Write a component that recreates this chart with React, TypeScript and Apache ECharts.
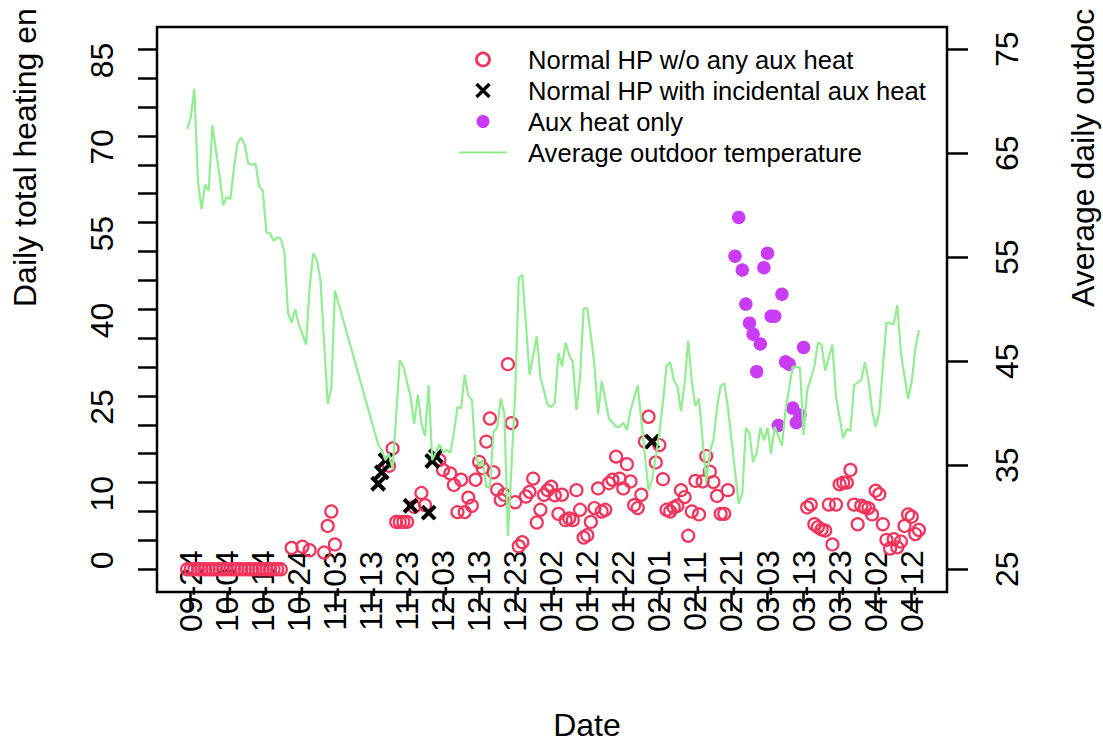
import { useEffect, useRef } from 'react';
import * as echarts from 'echarts';

// x values are days counted from 09-24
const dateTickDays = [0, 10, 20, 30, 40, 50, 60, 70, 80, 90, 100, 110, 120, 130, 140, 150, 160, 170, 180, 190, 200];
const dateTickLabels = [
  '09-24', '10-04', '10-14', '10-24', '11-03', '11-13', '11-23', '12-03', '12-13', '12-23', '01-02',
  '01-12', '01-22', '02-01', '02-11', '02-21', '03-03', '03-13', '03-23', '04-02', '04-12'
];

const energyTicks = [0, 5, 10, 15, 20, 25, 30, 35, 40, 45, 50, 55, 60, 65, 70, 75, 80, 85, 90];
const energyLabels = [0, 10, 25, 40, 55, 70, 85];
const tempTicks = [25, 35, 45, 55, 65, 75];

// Normal HP w/o any aux heat
const normalDays = [
  -1, 0, 1, 2, 3, 4, 5, 6, 7, 8, 9, 10, 11, 12, 13, 14, 15, 16, 17, 18, 19, 20, 21, 22, 23, 24, 25,
  28, 31, 33, 37, 38, 39, 40,
  55, 56, 57, 58, 59, 60, 62, 64, 65,
  69, 70, 72, 73, 74, 75, 76, 77, 78, 79, 80, 81, 82, 83, 84, 85, 86, 87, 88, 89, 90, 91, 92, 93, 94,
  95, 96, 97, 98, 99, 100, 101, 102, 103, 104, 105, 106, 107, 108, 109, 110, 111, 112, 113, 114, 115,
  116, 117, 118, 119, 120, 121, 122, 123, 124, 125, 126, 127, 129, 130, 131, 132, 133, 134, 135, 136,
  137, 138, 139, 140, 141, 142, 143, 144, 145, 146, 147, 148, 149,
  171, 172, 173, 174, 175, 176, 177, 178, 179, 180, 181, 182, 183, 184, 185, 186, 187, 188, 189, 190,
  191, 192, 193, 194, 195, 196, 197, 198, 199, 200, 201, 202
];
const normalKwh = [
  0, 0, 0, 0, 0, 0, 0, 0, 0, 0, 0, 0, 0, 0, 0, 0, 0, 0, 0, 0, 0, 0, 0, 0, 0, 0, 0,
  3.7, 3.9, 3.3, 2.9, 7.5, 10.0, 4.3,
  17.9, 20.9, 8.2, 8.2, 8.2, 8.2, 10.8, 13.2, 11.1,
  18.9, 17.2, 16.6, 14.6, 9.9, 15.5, 9.9, 12.4, 11.0, 15.5, 18.6, 17.5, 22.1, 26.1, 16.8, 13.8, 12.0,
  12.9, 35.5, 25.3, 11.6, 4.0, 4.7, 12.6, 13.4,
  15.7, 8.1, 10.3, 12.9, 13.7, 14.3, 12.8, 9.6, 12.9, 8.5, 8.8, 8.5, 13.7, 10.3, 5.5, 5.9, 8.2, 10.6,
  14.0, 10.0, 10.3,
  14.9, 15.5, 19.5, 15.7, 14.0, 18.2, 15.2, 11.1, 10.6, 12.9, 22.1, 26.4, 18.5, 21.5, 15.6, 10.3, 10.0,
  10.7, 11.0, 13.7,
  12.5, 5.8, 10.0, 15.3, 9.5, 15.2, 19.6, 16.9, 15.1, 12.7, 9.6, 9.6, 13.7,
  10.7, 11.2, 7.8, 7.3, 6.9, 6.7, 11.2, 4.3, 11.2, 14.7, 15.0, 15.0, 17.2, 11.2, 7.8, 11.0, 10.7, 10.6,
  9.5, 13.6,
  13.0, 7.8, 5.1, 3.6, 5.2, 3.8, 4.8, 7.5, 9.5, 9.1, 6.1, 6.8
];

// Normal HP with incidental aux heat
const incidentalDays = [52, 53, 54, 61, 66, 67, 68, 128];
const incidentalKwh = [14.8, 16.8, 18.9, 11.0, 9.8, 18.75, 19.6, 22.1];

// Aux heat only
const auxDays = [151, 152, 153, 154, 155, 156, 157, 158, 159, 160, 161, 162, 163, 164, 165, 166, 167, 168, 169, 170];
const auxKwh = [54.2, 60.9, 51.8, 45.9, 42.6, 40.7, 34.2, 39.0, 52.2, 54.7, 43.8, 43.8, 24.9, 47.6, 35.9, 35.5, 27.9, 25.4, 26.7, 38.4];

// Average outdoor temperature
const tempDays = [
  -1, 0, 1, 2, 3, 4, 5, 6, 8, 9, 10, 11, 12, 13, 14, 15, 16, 17, 18, 19, 20, 21, 22, 23, 24, 25, 26, 27,
  28, 29, 30, 31, 32, 33, 34, 35, 36, 38, 39, 40,
  52, 53, 54, 55, 56, 58, 59, 61, 62, 63, 64, 65, 66, 67, 69, 70, 71, 72, 73, 74, 75, 76, 77, 78, 79,
  80, 81, 82, 83, 84, 85, 86, 87, 88, 90, 91, 92, 94, 96, 97, 99, 100, 101, 102, 103, 104, 105, 106,
  107, 108, 109, 110, 111, 112, 113, 114, 116, 118, 119, 120, 121, 122, 124, 127, 128, 130, 131, 132,
  133, 134, 135, 136, 137, 138, 139, 140, 141, 143, 144, 145, 146, 147, 148, 149, 152, 153, 154, 155,
  156, 157, 158, 159, 160, 161, 162, 164, 165, 167, 169, 170, 171, 173, 174, 175, 176, 178, 179, 181,
  182, 183, 184, 186, 187, 188, 189, 190, 191, 193, 194, 195, 196, 197, 199, 200, 201, 202
];
const tempValues = [
  67.3, 68.4, 71.2, 62.4, 59.6, 62.0, 61.4, 67.7, 62.9, 60.0, 60.8, 60.6, 63.6, 66.0, 66.5, 65.8, 64.0,
  63.9, 64.0, 61.8, 61.4, 57.4, 57.3, 56.6, 56.9, 56.8, 55.5, 49.6,
  48.7, 50.0, 48.5, 47.6, 46.6, 52.2, 55.4, 54.7, 52.8, 40.9, 42.4, 51.8,
  37.0, 36.5, 35.5, 36.1, 34.6, 45.1, 44.5, 41.6, 39.0, 41.8, 39.0, 37.8, 42.7, 35.5, 37.0, 36.3, 36.5,
  36.2, 38.1, 40.6, 40.5, 43.7, 41.7, 41.3, 36.0,
  34.9, 35.5, 32.9, 32.9, 38.2, 38.6, 41.4, 40.0, 28.2, 41.9, 53.0, 53.3, 43.7, 47.4, 43.5, 40.8, 40.6,
  41.0, 45.8, 44.5, 46.8, 45.6, 44.9,
  40.3, 43.4, 50.1, 50.1, 47.5, 44.6, 39.9, 43.1, 39.5, 38.7, 38.7, 39.1, 38.4, 40.3, 42.7, 32.6, 33.6,
  38.1, 41.1, 44.6,
  44.9, 43.2, 42.6, 40.2, 42.9, 47.0, 43.0, 40.7, 41.4, 33.4, 36.3, 37.4, 40.6, 42.6, 42.9, 40.6, 31.3,
  32.3, 38.6, 38.1,
  35.3, 36.2, 38.6, 37.4, 38.6, 36.1, 38.7, 36.9, 40.3, 44.5, 44.4, 37.9, 42.2, 44.5, 46.8, 46.6, 44.1,
  46.6, 41.6, 37.6,
  38.5, 38.3, 42.7, 43.2, 44.9, 43.2, 40.3, 38.7, 40.1, 48.7, 48.7, 48.5, 50.4, 45.8, 41.4, 43.0, 46.2, 48.0
];

const FONT = '"Liberation Sans", Arial, Helvetica, sans-serif';
const RED = '#F2335C';
const PURPLE = '#C83CF5';
const GREEN = '#90EE90';

const pairs = (xs: number[], ys: number[]) => xs.map((x, i) => [x, ys[i]]);

export default function App() {
  const chartRef = useRef<HTMLDivElement>(null);

  useEffect(() => {
    if (!chartRef.current) return;
    const chart = echarts.init(chartRef.current, undefined, { renderer: 'svg' });

    const tickLine = { color: '#000', width: 2.5 };
    const axisText = { fontSize: 32, color: '#000', fontFamily: FONT };

    const option: echarts.EChartsOption = {
      animation: false,
      textStyle: { fontFamily: FONT },
      grid: {
        left: 157,
        top: 27,
        width: 790,
        height: 565,
        show: true,
        borderColor: '#000',
        borderWidth: 2.5,
        backgroundColor: 'transparent'
      },
      xAxis: {
        type: 'value',
        min: -9.35,
        max: 209.79,
        axisLine: { show: false, onZero: false },
        splitLine: { show: false },
        axisTick: { show: true, length: 19, lineStyle: tickLine, customValues: dateTickDays },
        axisLabel: {
          ...axisText,
          customValues: dateTickDays,
          formatter: (v: number) => dateTickLabels[dateTickDays.indexOf(Math.round(v))] ?? '',
          rotate: 90,
          align: 'center',
          verticalAlign: 'middle',
          margin: -1
        }
      } as any,
      yAxis: [
        {
          type: 'value',
          position: 'left',
          min: -3.93,
          max: 93.86,
          axisLine: { show: false, onZero: false },
          splitLine: { show: false },
          axisTick: { show: true, length: 19, lineStyle: tickLine, customValues: energyTicks },
          axisLabel: {
            ...axisText,
            customValues: energyLabels,
            rotate: 90,
            align: 'left',
            verticalAlign: 'middle',
            margin: 55
          }
        },
        {
          type: 'value',
          position: 'right',
          min: 22.82,
          max: 77.14,
          axisLine: { show: false, onZero: false },
          splitLine: { show: false },
          axisTick: { show: true, length: 21, lineStyle: tickLine, customValues: tempTicks },
          axisLabel: {
            ...axisText,
            customValues: tempTicks,
            rotate: 90,
            align: 'center',
            verticalAlign: 'middle',
            margin: 60
          }
        }
      ] as any,
      legend: {
        orient: 'vertical',
        left: 458,
        top: 44,
        itemWidth: 48,
        itemHeight: 13,
        itemGap: 0,
        padding: 0,
        textStyle: {
          fontSize: 25.6,
          lineHeight: 31,
          color: '#000',
          fontFamily: FONT,
          padding: [0, 0, 0, 16]
        },
        data: [
          { name: 'Normal HP w/o any aux heat', itemStyle: { borderWidth: 2.8 } },
          { name: 'Normal HP with incidental aux heat', itemStyle: { borderWidth: 3.4 } },
          { name: 'Aux heat only' },
          { name: 'Average outdoor temperature', itemStyle: { opacity: 0 } }
        ]
      } as any,
      graphic: [
        {
          type: 'text',
          x: 587,
          y: 725,
          style: {
            text: 'Date',
            fill: '#000',
            font: `32px ${FONT}`,
            align: 'center',
            verticalAlign: 'middle',
            textAlign: 'center',
            textVerticalAlign: 'middle'
          } as any
        },
        {
          type: 'text',
          x: 25,
          y: 307,
          rotation: Math.PI / 2,
          style: {
            text: 'Daily total heating en',
            fill: '#000',
            font: `32px ${FONT}`,
            align: 'left',
            verticalAlign: 'middle',
            textAlign: 'left',
            textVerticalAlign: 'middle'
          } as any
        },
        {
          type: 'text',
          x: 1083,
          y: 307,
          rotation: Math.PI / 2,
          style: {
            text: 'Average daily outdoc',
            fill: '#000',
            font: `32px ${FONT}`,
            align: 'left',
            verticalAlign: 'middle',
            textAlign: 'left',
            textVerticalAlign: 'middle'
          } as any
        }
      ],
      series: [
        {
          name: 'Normal HP w/o any aux heat',
          type: 'scatter',
          xAxisIndex: 0,
          yAxisIndex: 0,
          symbol: 'circle',
          symbolSize: 12,
          itemStyle: { color: 'rgba(0,0,0,0)', borderColor: RED, borderWidth: 2.2, opacity: 1 },
          data: pairs(normalDays, normalKwh)
        },
        {
          name: 'Normal HP with incidental aux heat',
          type: 'scatter',
          xAxisIndex: 0,
          yAxisIndex: 0,
          symbol: 'path://M0,0L10,10M10,0L0,10',
          symbolSize: 13,
          itemStyle: { color: 'rgba(0,0,0,0)', borderColor: '#000', borderWidth: 4, opacity: 1 },
          data: pairs(incidentalDays, incidentalKwh)
        },
        {
          name: 'Aux heat only',
          type: 'scatter',
          xAxisIndex: 0,
          yAxisIndex: 0,
          symbol: 'circle',
          symbolSize: 13.5,
          itemStyle: { color: PURPLE, opacity: 1 },
          data: pairs(auxDays, auxKwh)
        },
        {
          name: 'Average outdoor temperature',
          type: 'line',
          xAxisIndex: 0,
          yAxisIndex: 1,
          symbol: 'none',
          showSymbol: false,
          lineStyle: { color: GREEN, width: 2.2 },
          itemStyle: { color: GREEN },
          data: pairs(tempDays, tempValues)
        }
      ]
    };

    chart.setOption(option);
    return () => chart.dispose();
  }, []);

  return (
    <div
      ref={chartRef}
      style={{ position: 'absolute', left: 0, top: 0, width: 1103, height: 744, background: '#fff' }}
    />
  );
}
